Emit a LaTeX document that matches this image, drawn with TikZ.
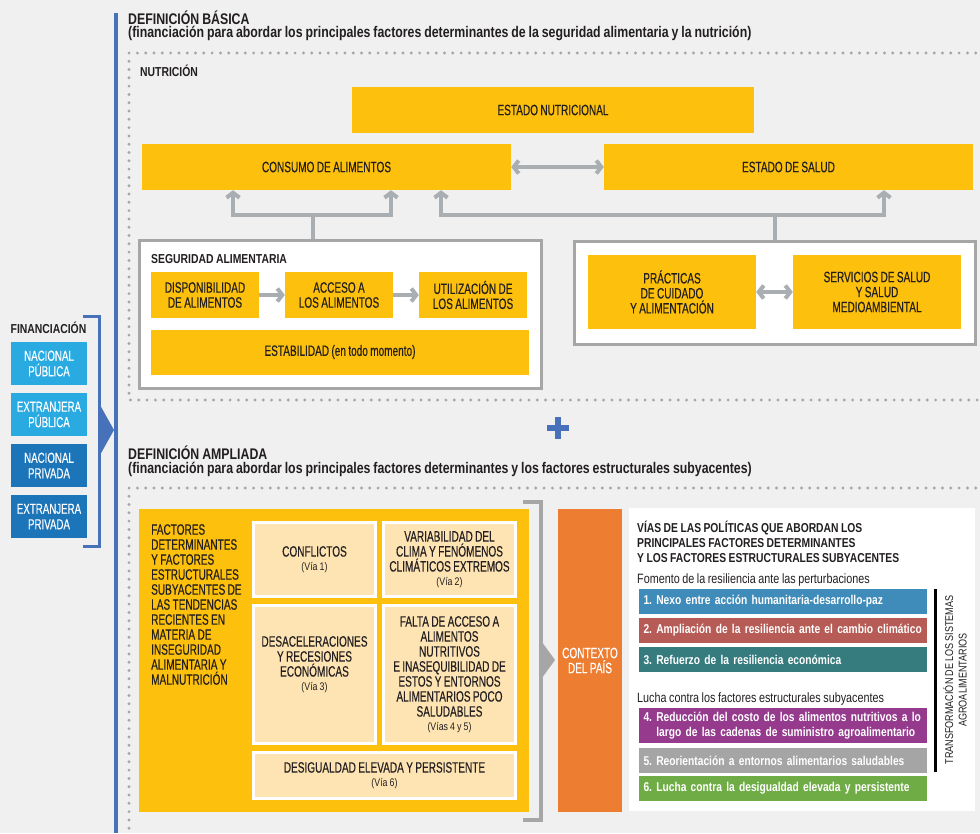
\documentclass[tikz,border=0pt]{standalone}
\usepackage{fontspec}
\setmainfont[FakeStretch=0.8, WordSpace=0.85]{Liberation Sans}
\newfontfamily\capfont[FakeStretch=0.67, WordSpace=0.85, UprightFeatures={FakeBold=0.3}]{Liberation Sans}
\usetikzlibrary{arrows.meta,positioning}
\frenchspacing

\definecolor{bggray}{HTML}{F0F0F0}
\definecolor{fyellow}{HTML}{FCC00D}
\definecolor{lightyel}{HTML}{FFE4B3}
\definecolor{arrgray}{HTML}{A8AEB1}
\definecolor{boxgray}{HTML}{A6A6A6}
\definecolor{barblue}{HTML}{4771B9}
\definecolor{finlight}{HTML}{29ABE2}
\definecolor{findark}{HTML}{1C74B9}
\definecolor{ctxorange}{HTML}{ED7D31}
\definecolor{txtdark}{HTML}{231F20}
\definecolor{via1}{HTML}{3F8BB9}
\definecolor{via2}{HTML}{B65B55}
\definecolor{via3}{HTML}{367C7E}
\definecolor{via4}{HTML}{953A8D}
\definecolor{via5}{HTML}{A5A5A5}
\definecolor{via6}{HTML}{6FAC46}

\newcommand{\lblfont}{\capfont\fontsize{15}{15}\selectfont}
\newcommand{\headfont}{\fontsize{15.4}{16}\selectfont\bfseries}
\newcommand{\viafont}{\normalfont\fontsize{11}{12}\selectfont}
\newcommand{\barfont}{\fontsize{12.8}{14.5}\selectfont\bfseries\spaceskip=2.7pt plus 0.5pt minus 0.5pt\relax}

\begin{document}
\begin{tikzpicture}[x=1pt,y=-1pt,
    yelbox/.style={fill=fyellow, inner sep=0pt, align=center, font=\lblfont, text=txtdark},
    lightbox/.style={fill=lightyel, draw=white, line width=3pt, inner sep=0pt, align=center, font=\lblfont, text=txtdark},
    framebox/.style={fill=white, draw=boxgray, line width=3pt, inner sep=0pt},
    finbox/.style={inner sep=0pt, minimum width=76pt, minimum height=43pt, align=center, font=\capfont\fontsize{14.5}{15.5}\selectfont, text=white},
    viabar/.style={inner sep=0pt, inner xsep=4.5pt, minimum width=288pt, text width=279pt, align=left, font=\barfont, text=white},
    headtxt/.style={font=\headfont, text=txtdark, inner sep=0pt, anchor=base west},
    garr/.style={draw=arrgray, line width=4pt, -{Straight Barb[length=5pt,width=13pt]}},
    gline/.style={draw=arrgray, line width=4pt},
    gdarr/.style={draw=arrgray, line width=4pt, {Straight Barb[length=5pt,width=13pt]}-{Straight Barb[length=5pt,width=13pt]}},
    dotline/.style={draw=boxgray, line width=3.2pt, line cap=round, dash pattern=on 0pt off 8.3pt}]

    % Background
    \fill[bggray] (0,0) rectangle (980,833);
    \useasboundingbox (0,0) rectangle (980,833);

    % Blue bar and financing bracket
    \fill[barblue] (114,13) rectangle (118,833);
    \draw[barblue, line width=3pt] (83,316) -- (99,316) -- (99,546) -- (83,546);
    \fill[barblue] (100,405) -- (114,430) -- (100,455) -- cycle;

    % Financing
    \node[font=\fontsize{13}{14}\selectfont\bfseries, text=txtdark, inner sep=0pt, anchor=base] (fintitle) at (48.5,333) {FINANCIACIÓN};
    \node[finbox, fill=finlight] (fin1) at (49,363.5) {NACIONAL\\PÚBLICA};
    \node[finbox, fill=finlight] (fin2) at (49,414.5) {EXTRANJERA\\PÚBLICA};
    \node[finbox, fill=findark] (fin3) at (49,465.5) {NACIONAL\\PRIVADA};
    \node[finbox, fill=findark] (fin4) at (49,516.5) {EXTRANJERA\\PRIVADA};

    % Basic definition
    \node[headtxt] (basica) at (128,24) {DEFINICIÓN BÁSICA};
    \node[headtxt] (basicasub) at (128,37.5) {(financiación para abordar los principales factores determinantes de la seguridad alimentaria y la nutrición)};
    \draw[dotline] (984,53) -- (129,53) -- (129,400) -- (984,400);
    \node[headtxt, font=\fontsize{13}{14}\selectfont\bfseries] (nutri) at (140,76) {NUTRICIÓN};

    \node[yelbox, minimum width=402pt, minimum height=46pt] (estnut) at (553,110) {ESTADO NUTRICIONAL};
    \node[yelbox, minimum width=369pt, minimum height=46pt] (consumo) at (326.5,167) {CONSUMO DE ALIMENTOS};
    \node[yelbox, minimum width=369pt, minimum height=46pt] (salud) at (788.5,167) {ESTADO DE SALUD};
    \draw[gdarr] (consumo.east) -- (salud.west);

    % Food security
    \node[framebox, minimum width=402pt, minimum height=148pt] (segbox) at (340,314) {};
    \node[headtxt, font=\fontsize{13}{14}\selectfont\bfseries] (segtitle) at (151,263) {SEGURIDAD ALIMENTARIA};
    \node[yelbox, minimum width=108pt, minimum height=46pt] (disp) at (205,295) {DISPONIBILIDAD\\DE ALIMENTOS};
    \node[yelbox, minimum width=108pt, minimum height=46pt] (acceso) at (339,295) {ACCESO A\\LOS ALIMENTOS};
    \node[yelbox, minimum width=108pt, minimum height=46pt] (util) at (473,295) {UTILIZACIÓN DE\\LOS ALIMENTOS};
    \node[yelbox, minimum width=378pt, minimum height=45pt] (estab) at (340,352) {ESTABILIDAD (en todo momento)};
    \draw[garr] (disp) -- (acceso);
    \draw[garr] (acceso) -- (util);

    % Care and health
    \node[framebox, minimum width=401pt, minimum height=103pt] (saludbox) at (774.5,292.5) {};
    \node[yelbox, minimum width=168pt, minimum height=74pt] (practicas) at (672,292) {PRÁCTICAS\\DE CUIDADO\\Y ALIMENTACIÓN};
    \node[yelbox, minimum width=168pt, minimum height=74pt] (servicios) at (877,292) {SERVICIOS DE SALUD\\Y SALUD\\MEDIOAMBIENTAL};
    \draw[gdarr] (practicas) -- (servicios);

    % Links up to consumption and health
    \coordinate (fork1) at (313,215);
    \coordinate (fork2) at (775,215);
    \draw[gline] (fork1 |- segbox.north) -- (fork1);
    \draw[garr] (fork1) -| ([xshift=-93.5pt]consumo.south);
    \draw[garr] (fork1) -| ([xshift=64.5pt]consumo.south);
    \draw[gline] (fork2 |- saludbox.north) -- (fork2);
    \draw[garr] (fork2) -| ([xshift=114.5pt]consumo.south);
    \draw[garr] (fork2) -| ([xshift=95.5pt]salud.south);

    % Plus sign
    \fill[barblue] (547,425) rectangle (569,431);
    \fill[barblue] (555,417) rectangle (561,439);

    % Extended definition
    \node[headtxt] (ampliada) at (128,459) {DEFINICIÓN AMPLIADA};
    \node[headtxt] (ampliadasub) at (128,473.5) {(financiación para abordar los principales factores determinantes y los factores estructurales subyacentes)};
    \draw[dotline] (984,488) -- (129,488) -- (129,836);

    \node[yelbox, minimum width=390pt, minimum height=303pt] (factores) at (334,660.5) {};
    \node[anchor=north west, inner sep=0pt, align=left, font=\lblfont, text=txtdark] (factxt) at (151,524) {FACTORES\\DETERMINANTES\\Y FACTORES\\ESTRUCTURALES\\SUBYACENTES DE\\LAS TENDENCIAS\\RECIENTES EN\\MATERIA DE\\INSEGURIDAD\\ALIMENTARIA Y\\MALNUTRICIÓN};
    \node[lightbox, minimum width=122pt, minimum height=74pt] (conflictos) at (314.5,559.5) {CONFLICTOS\\[-1pt]{\viafont (Vía 1)}};
    \node[lightbox, minimum width=132pt, minimum height=74pt] (clima) at (449.5,559.5) {VARIABILIDAD DEL\\CLIMA Y FENÓMENOS\\CLIMÁTICOS EXTREMOS\\[-1pt]{\viafont (Vía 2)}};
    \node[lightbox, minimum width=122pt, minimum height=138pt] (recesion) at (314.5,674.5) {};
    \node[align=center, font=\lblfont, text=txtdark, inner sep=0pt] (recesiontxt) at ([yshift=10pt]recesion.center) {DESACELERACIONES\\Y RECESIONES\\ECONÓMICAS\\[-1pt]{\viafont (Vía 3)}};
    \node[lightbox, minimum width=132pt, minimum height=138pt] (acceso2) at (449.5,674.5) {FALTA DE ACCESO A\\ALIMENTOS\\NUTRITIVOS\\E INASEQUIBILIDAD DE\\ESTOS Y ENTORNOS\\ALIMENTARIOS POCO\\SALUDABLES\\[-1pt]{\viafont (Vías 4 y 5)}};
    \node[lightbox, minimum width=262pt, minimum height=46pt] (desigualdad) at (384.5,775.5) {DESIGUALDAD ELEVADA Y PERSISTENTE\\[-1pt]{\viafont (Vía 6)}};

    % Bracket towards country context
    \draw[boxgray, line width=4pt] (523,502) -- (541,502) -- (541,820) -- (523,820);
    \fill[boxgray] (539,638) -- (555,660) -- (539,682) -- cycle;

    \node[fill=ctxorange, minimum width=64pt, minimum height=303pt, inner sep=0pt, align=center, font=\lblfont, text=white] (contexto) at (590,660.5) {CONTEXTO\\DEL PAÍS};

    % Policy pathways
    \node[fill=white, minimum width=346pt, minimum height=303pt, inner sep=0pt] (vias) at (802,659.5) {};
    \node[anchor=north west, inner sep=0pt, align=left, font=\fontsize{12.9}{14.8}\selectfont\bfseries, text=txtdark] (viastitle) at (637,521) {VÍAS DE LAS POLÍTICAS QUE ABORDAN LOS\\PRINCIPALES FACTORES DETERMINANTES\\Y LOS FACTORES ESTRUCTURALES SUBYACENTES};
    \node[anchor=base west, inner sep=0pt, font=\fontsize{13.5}{14}\selectfont, text=txtdark] (fomento) at (637,583) {Fomento de la resiliencia ante las perturbaciones};
    \node[viabar, fill=via1, minimum height=25pt] (v1) at (783,601.5) {1. Nexo entre acción humanitaria-desarrollo-paz};
    \node[viabar, fill=via2, minimum height=25pt] (v2) at (783,630.5) {2. Ampliación de la resiliencia ante el cambio climático};
    \node[viabar, fill=via3, minimum height=25pt] (v3) at (783,659.5) {3. Refuerzo de la resiliencia económica};
    \node[anchor=base west, inner sep=0pt, font=\fontsize{13.5}{14}\selectfont, text=txtdark] (lucha) at (637,702) {Lucha contra los factores estructurales subyacentes};
    \node[viabar, fill=via4, minimum height=35pt] (v4) at (783,725.5) {4. Reducción del costo de los alimentos nutritivos a lo\\\phantom{4. }largo de las cadenas de suministro agroalimentario};
    \node[viabar, fill=via5, minimum height=25pt] (v5) at (783,760.5) {5. Reorientación a entornos alimentarios saludables};
    \node[viabar, fill=via6, minimum height=25pt] (v6) at (783,788.5) {6. Lucha contra la desigualdad elevada y persistente};

    % Transformation label
    \draw[black, line width=3pt] (935,589) -- (935,772);
    \node[rotate=90, align=center, inner sep=0pt, font=\fontsize{11.3}{13.5}\selectfont, text=txtdark] (transf) at (955,680) {TRANSFORMACIÓN DE LOS SISTEMAS\\AGROALIMENTARIOS};
\end{tikzpicture}
\end{document}
